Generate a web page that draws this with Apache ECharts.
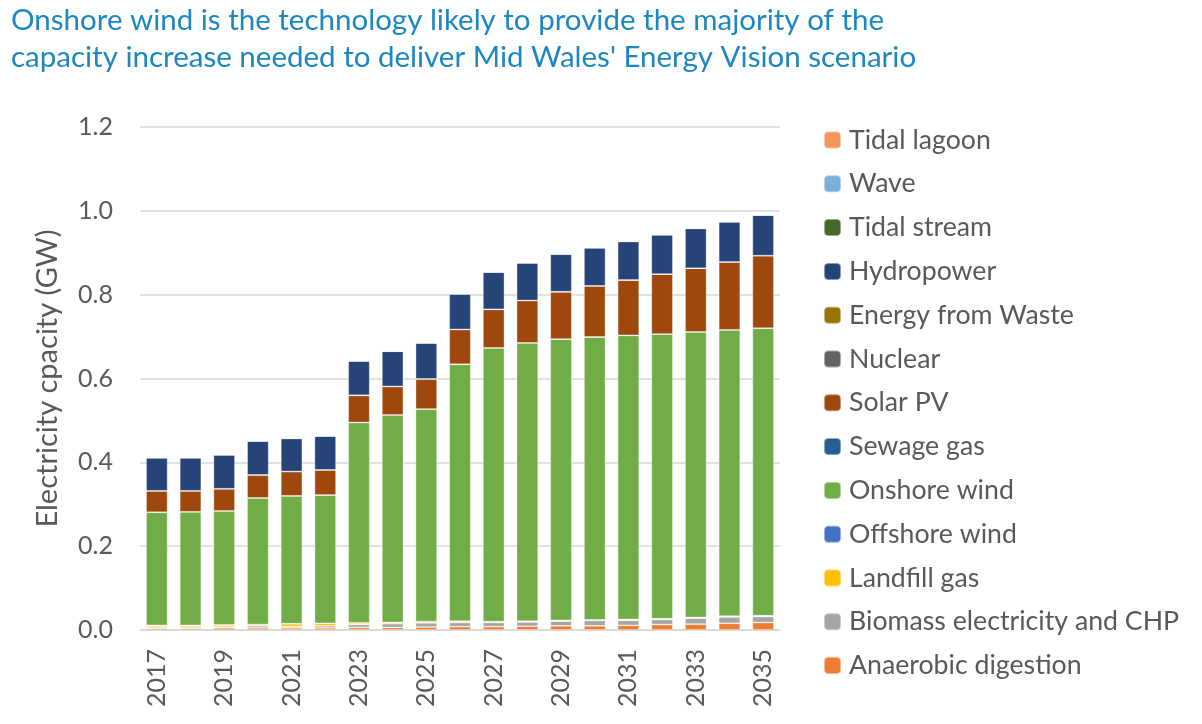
<!DOCTYPE html>
<html>
<head>
<meta charset="utf-8">
<script src="https://cdn.jsdelivr.net/npm/echarts@6/dist/echarts.min.js"></script>
<style>
  html, body { margin: 0; padding: 0; background: #fff; }
  #chart { width: 1202px; height: 724px; }
</style>
</head>
<body>
<div id="chart"></div>
<script>
var years = ['2017', '2018', '2019', '2020', '2021', '2022', '2023', '2024', '2025', '2026',
             '2027', '2028', '2029', '2030', '2031', '2032', '2033', '2034', '2035'];

// capacity in GW
var anaerobicDigestion = [0.004, 0.004, 0.005, 0.005, 0.005, 0.005, 0.006, 0.006, 0.007, 0.008,
                          0.008, 0.009, 0.010, 0.010, 0.011, 0.013, 0.014, 0.016, 0.018];
var biomassChp = [0.003, 0.003, 0.002, 0.005, 0.003, 0.005, 0.007, 0.009, 0.010, 0.010,
                  0.010, 0.010, 0.011, 0.013, 0.012, 0.012, 0.014, 0.015, 0.014];
var landfillGas = [0.004, 0.004, 0.005, 0.003, 0.007, 0.006, 0.004, 0.003, 0.003, 0.003,
                   0.002, 0.002, 0.002, 0.001, 0.002, 0.002, 0.002, 0.002, 0.002];
var offshoreWind = [0, 0, 0, 0, 0, 0, 0, 0, 0, 0, 0, 0, 0, 0, 0, 0, 0, 0, 0];
var onshoreWind = [0.270, 0.271, 0.272, 0.302, 0.305, 0.306, 0.478, 0.495, 0.507, 0.613,
                   0.653, 0.664, 0.671, 0.675, 0.678, 0.679, 0.681, 0.683, 0.686];
var sewageGas = [0, 0, 0, 0, 0, 0, 0, 0, 0, 0, 0, 0, 0, 0, 0, 0, 0, 0, 0];
var solarPv = [0.051, 0.050, 0.053, 0.055, 0.058, 0.060, 0.065, 0.068, 0.072, 0.083,
               0.092, 0.101, 0.113, 0.122, 0.132, 0.143, 0.152, 0.162, 0.173];
var nuclear = [0, 0, 0, 0, 0, 0, 0, 0, 0, 0, 0, 0, 0, 0, 0, 0, 0, 0, 0];
var energyFromWaste = [0, 0, 0, 0, 0, 0, 0, 0, 0, 0, 0, 0, 0, 0, 0, 0, 0, 0, 0];
var hydropower = [0.079, 0.079, 0.081, 0.081, 0.079, 0.081, 0.082, 0.084, 0.086, 0.085,
                  0.089, 0.090, 0.090, 0.091, 0.092, 0.094, 0.095, 0.096, 0.097];
var tidalStream = [0, 0, 0, 0, 0, 0, 0, 0, 0, 0, 0, 0, 0, 0, 0, 0, 0, 0, 0];
var wave = [0, 0, 0, 0, 0, 0, 0, 0, 0, 0, 0, 0, 0, 0, 0, 0, 0, 0, 0];
var tidalLagoon = [0, 0, 0, 0, 0, 0, 0, 0, 0, 0, 0, 0, 0, 0, 0, 0, 0, 0, 0];

// stacking order, bottom to top
var stack = [
    ['Anaerobic digestion', anaerobicDigestion, '#ED7D31'],
    ['Biomass electricity and CHP', biomassChp, '#A5A5A5'],
    ['Landfill gas', landfillGas, '#FFC000'],
    ['Offshore wind', offshoreWind, '#4472C4'],
    ['Onshore wind', onshoreWind, '#70AD47'],
    ['Sewage gas', sewageGas, '#255E91'],
    ['Solar PV', solarPv, '#9E480E'],
    ['Nuclear', nuclear, '#636363'],
    ['Energy from Waste', energyFromWaste, '#997300'],
    ['Hydropower', hydropower, '#264478'],
    ['Tidal stream', tidalStream, '#43682B'],
    ['Wave', wave, '#7CAFDD'],
    ['Tidal lagoon', tidalLagoon, '#F1975A']
];

var font = 'Lato, "Open Sans", sans-serif';

var series = stack.map(function(s) {
    return {
        name: s[0],
        type: 'bar',
        stack: 'total',
        data: s[1],
        barCategoryGap: '36%',
        itemStyle: {
            color: s[2],
            borderColor: 'rgba(255,255,255,0.45)',
            borderWidth: 0.8
        }
    };
});

var myChart = echarts.init(document.getElementById('chart'));
var option = {
    backgroundColor: '#fff',
    animation: false,
    textStyle: { fontFamily: font },
    title: {
        text: "Onshore wind is the technology likely to provide the majority of the\ncapacity increase needed to deliver Mid Wales' Energy Vision scenario",
        left: 6,
        top: 0,
        padding: [2, 5, 5, 5],
        textStyle: {
            fontFamily: font,
            fontSize: 29.5,
            fontWeight: 'normal',
            color: '#1D87C2',
            lineHeight: 37
        }
    },
    legend: {
        orient: 'vertical',
        left: 823,
        top: 126.5,
        padding: 0,
        itemWidth: 17,
        itemHeight: 17,
        itemGap: 16.8,
        data: stack.map(function(s) { return s[0]; }).reverse(),
        textStyle: {
            fontFamily: font,
            fontSize: 26.7,
            lineHeight: 27,
            color: '#595959',
            padding: [0, 0, 0, 3]
        }
    },
    grid: {
        left: 140,
        right: 422,
        top: 127,
        bottom: 94
    },
    xAxis: {
        type: 'category',
        data: years,
        axisLine: { lineStyle: { color: '#D9D9D9', width: 1.5 } },
        axisTick: { show: false },
        axisLabel: {
            interval: 1,
            rotate: 90,
            margin: 19,
            fontSize: 25,
            color: '#595959',
            fontFamily: font
        }
    },
    yAxis: {
        type: 'value',
        min: 0,
        max: 1.2,
        interval: 0.2,
        name: 'Electricity cpacity (GW)',
        nameLocation: 'middle',
        nameRotate: 90,
        nameGap: 78,
        nameTextStyle: { fontSize: 29, color: '#595959', fontFamily: font },
        axisLine: { show: false },
        axisTick: { show: false },
        splitLine: { lineStyle: { color: '#D9D9D9', width: 1.5 } },
        axisLabel: {
            margin: 27,
            fontSize: 25,
            color: '#595959',
            fontFamily: font,
            formatter: function(v) { return v.toFixed(1); }
        }
    },
    series: series
};
myChart.setOption(option);
</script>
</body>
</html>
